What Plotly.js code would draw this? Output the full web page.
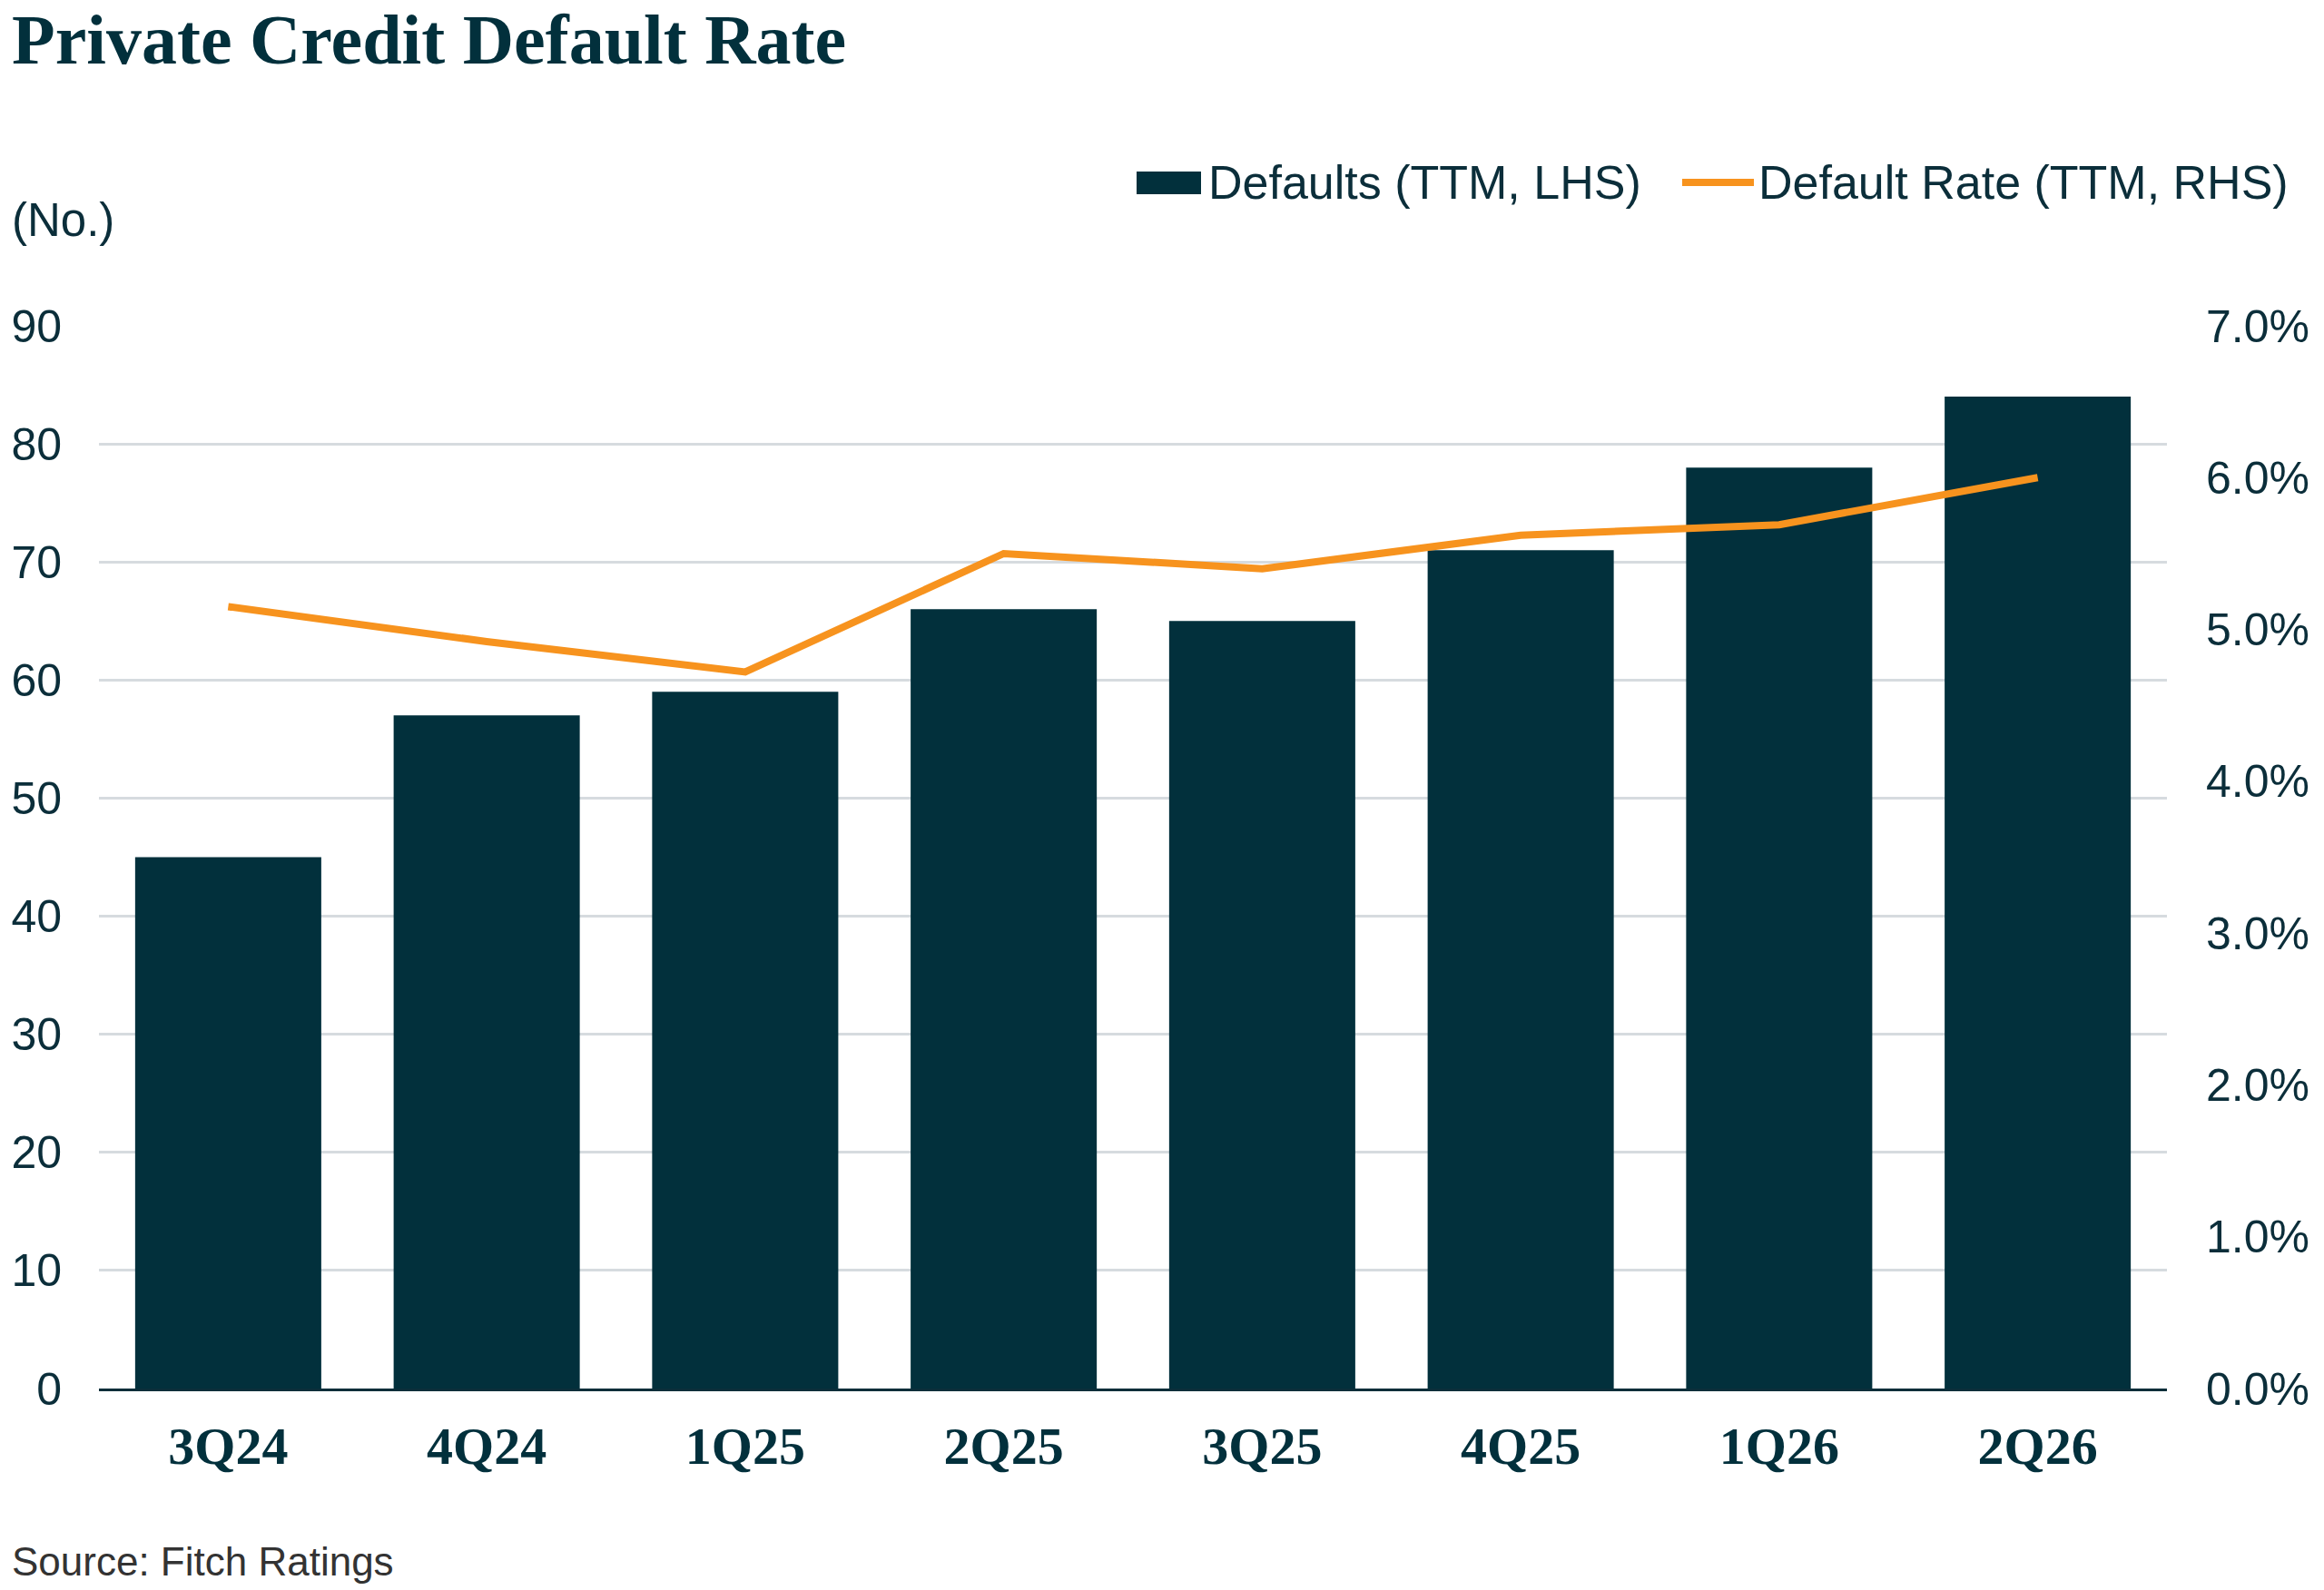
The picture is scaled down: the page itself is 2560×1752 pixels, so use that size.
<!DOCTYPE html>
<html>
<head>
<meta charset="utf-8">
<script src="https://cdn.plot.ly/plotly-3.0.1.min.js"></script>
<style>
  html, body { margin: 0; padding: 0; background: #ffffff; }
  #chart { width: 2560px; height: 1752px; }
</style>
</head>
<body>
<div id="chart"></div>
<script>
// quarters on the x axis
const quarters = ['3Q24', '4Q24', '1Q25', '2Q25', '3Q25', '4Q25', '1Q26', '2Q26'];
// number of defaults, trailing twelve months (left axis)
const defaults = [45, 57, 59, 66, 65, 71, 78, 84];
// default rate in %, trailing twelve months (right axis)
const defaultRate = [5.15, 4.92, 4.72, 5.5, 5.4, 5.62, 5.69, 6.0];

const navy = '#02303C';
const orange = '#F7931E';
const textCol = '#0B2E3A';
const sans = 'Liberation Sans, Arial, sans-serif';
const serif = 'Liberation Serif, Times New Roman, serif';

// plot box in pixels
const W = 2560, H = 1752;
const box = {l: 109, r: 2387, t: 359, b: 1530};
const px = x => (x - box.l) / (box.r - box.l);
const py = y => (box.b - y) / (box.b - box.t);

const traces = [
  {
    type: 'bar',
    x: quarters,
    y: defaults,
    name: 'Defaults (TTM, LHS)',
    marker: {color: navy},
    hoverinfo: 'x+y'
  },
  {
    type: 'scatter',
    mode: 'lines',
    x: quarters,
    y: defaultRate,
    yaxis: 'y2',
    name: 'Default Rate (TTM, RHS)',
    line: {color: orange, width: 8}
  }
];

const layout = {
  width: W,
  height: H,
  paper_bgcolor: '#ffffff',
  plot_bgcolor: '#ffffff',
  showlegend: false,
  bargap: 0.28,
  margin: {l: box.l, r: W - box.r, t: box.t, b: H - box.b, pad: 0},
  font: {family: sans, color: textCol},
  title: {
    text: '<b>Private Credit Default Rate</b>',
    font: {family: serif, size: 78, color: navy},
    xref: 'container', yref: 'container',
    x: 13 / W, xanchor: 'left',
    y: 1 - 43 / H, yanchor: 'middle'
  },
  xaxis: {
    type: 'category',
    showgrid: false,
    showline: true,
    linecolor: textCol,
    linewidth: 3,
    ticks: '',
    ticklabelstandoff: 10,
    tickfont: {family: serif, size: 58, color: navy, weight: 'bold'}
  },
  yaxis: {
    range: [0, 90],
    dtick: 10,
    showgrid: true,
    gridcolor: '#D6DBDF',
    gridwidth: 3,
    zeroline: false,
    ticks: '',
    ticklabelstandoff: 40,
    tickfont: {family: sans, size: 50, color: textCol}
  },
  yaxis2: {
    overlaying: 'y',
    side: 'right',
    range: [0, 7],
    dtick: 1,
    tickformat: '.1f',
    ticksuffix: '%',
    showgrid: false,
    zeroline: false,
    ticks: '',
    ticklabelstandoff: 42,
    tickfont: {family: sans, size: 50, color: textCol}
  },
  shapes: [
    // legend keys
    {type: 'rect', xref: 'paper', yref: 'paper',
     x0: px(1252), x1: px(1323), y0: py(214), y1: py(189),
     fillcolor: navy, line: {width: 0}},
    {type: 'line', xref: 'paper', yref: 'paper',
     x0: px(1853), x1: px(1932), y0: py(201), y1: py(201),
     line: {color: orange, width: 8}}
  ],
  annotations: [
    {text: 'Defaults (TTM, LHS)', xref: 'paper', yref: 'paper',
     x: px(1329), y: py(201), xanchor: 'left', yanchor: 'middle',
     showarrow: false, font: {family: sans, size: 52, color: textCol}},
    {text: 'Default Rate (TTM, RHS)', xref: 'paper', yref: 'paper',
     x: px(1935), y: py(201), xanchor: 'left', yanchor: 'middle',
     showarrow: false, font: {family: sans, size: 52, color: textCol}},
    {text: '(No.)', xref: 'paper', yref: 'paper',
     x: px(11), y: py(242), xanchor: 'left', yanchor: 'middle',
     showarrow: false, font: {family: sans, size: 51, color: textCol}},
    {text: 'Source: Fitch Ratings', xref: 'paper', yref: 'paper',
     x: px(11), y: py(1720), xanchor: 'left', yanchor: 'middle',
     showarrow: false, font: {family: sans, size: 44, color: '#333333'}}
  ]
};

Plotly.newPlot('chart', traces, layout, {displayModeBar: false, staticPlot: true});
</script>
</body>
</html>
